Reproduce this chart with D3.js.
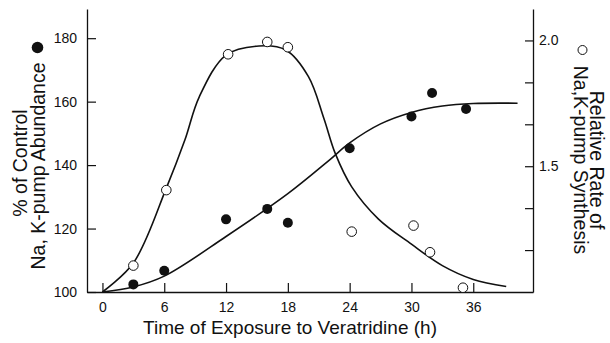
<html>
<head>
<script src="https://cdnjs.cloudflare.com/ajax/libs/d3/7.8.5/d3.min.js"></script>
<style>
  body { margin: 0; background: #fff; }
  text { font-family: "Liberation Sans", Arial, Helvetica, sans-serif; fill: #111; }
</style>
</head>
<body>
<div class="chart"></div>
<script>
const width = 610;
const height = 343;

// measured points: hours, % of control (filled) and relative rate (open)
const abundanceTime = [3, 6, 12, 16, 18, 24, 30, 32, 35.3];
const abundanceValue = [102.4, 106.7, 122.9, 126.2, 121.8, 145.3, 155.3, 162.7, 157.7];
const synthesisTime = [3, 6.2, 12.2, 16, 18, 24.2, 30.2, 31.8, 35];
const synthesisValue = [1.105, 1.405, 1.945, 1.994, 1.973, 1.24, 1.264, 1.158, 1.017];

// fitted curves as drawn in the figure
const abundanceCurveT = [0, 3, 6, 12, 18, 22, 24, 27, 30, 33, 36, 40.3];
const abundanceCurveV = [100, 101.6, 105, 117.5, 131, 141.5, 147, 153, 156.6, 158.6, 159.4, 159.5];
const synthesisCurveT = [0, 3, 6.2, 8, 9.4, 12, 15.2, 17.8, 20, 21.5, 22.6, 24.2, 26.8, 30, 33, 36, 39.2];
const synthesisCurveV = [1.0, 1.115, 1.413, 1.604, 1.776, 1.942, 1.978, 1.962, 1.856, 1.69, 1.551, 1.418, 1.29, 1.19, 1.105, 1.05, 1.022];

const xTicks = [0, 6, 12, 18, 24, 30, 36];
const leftTicks = [100, 120, 140, 160, 180];
const rightTicks = [1 + 1/6, 1 + 2/6, 1.5, 1 + 4/6, 1 + 5/6, 2.0];
const rightLabels = [1.5, 2.0];

const svg = d3.select(".chart").append("svg")
  .attr("width", width)
  .attr("height", height);

const x = d3.scaleLinear().domain([-1.5, 41.8]).range([87, 533]);
const yL = d3.scaleLinear().domain([100, 189.2]).range([292, 9]);
const yR = d3.scaleLinear().domain([1, 2.125]).range([292, 9]);

// Axes
const styleAxis = g => {
  g.selectAll("path, line").attr("stroke", "#111").attr("stroke-width", 1.2);
  g.selectAll("text").style("font-size", "14px").attr("fill", "#111");
};

svg.append("g")
  .attr("transform", "translate(0,292)")
  .call(d3.axisBottom(x).tickValues(xTicks).tickSizeInner(-9).tickSizeOuter(0).tickPadding(10))
  .call(styleAxis);

svg.append("g")
  .attr("transform", "translate(87,0)")
  .call(d3.axisLeft(yL).tickValues(leftTicks).tickSizeInner(-9).tickSizeOuter(0).tickPadding(10))
  .call(styleAxis);

svg.append("g")
  .attr("transform", "translate(533,0)")
  .call(d3.axisRight(yR).tickValues(rightTicks).tickSizeInner(-8).tickSizeOuter(0).tickPadding(6)
    .tickFormat(d => rightLabels.some(v => Math.abs(v - d) < 1e-6) ? d.toFixed(1) : ""))
  .call(styleAxis);

svg.selectAll(".domain").attr("stroke-width", 1.3);

// Curves
const lineL = d3.line().x(d => x(d[0])).y(d => yL(d[1])).curve(d3.curveCatmullRom.alpha(0.5));
const lineR = d3.line().x(d => x(d[0])).y(d => yR(d[1])).curve(d3.curveCatmullRom.alpha(0.5));

svg.append("path")
  .datum(d3.zip(abundanceCurveT, abundanceCurveV))
  .attr("d", lineL)
  .attr("fill", "none").attr("stroke", "#111").attr("stroke-width", 1.6);

svg.append("path")
  .datum(d3.zip(synthesisCurveT, synthesisCurveV))
  .attr("d", lineR)
  .attr("fill", "none").attr("stroke", "#111").attr("stroke-width", 1.6);

// Points
svg.append("g").selectAll("circle")
  .data(d3.zip(abundanceTime, abundanceValue)).enter()
  .append("circle")
  .attr("cx", d => x(d[0])).attr("cy", d => yL(d[1]))
  .attr("r", 5).attr("fill", "#111");

svg.append("g").selectAll("circle")
  .data(d3.zip(synthesisTime, synthesisValue)).enter()
  .append("circle")
  .attr("cx", d => x(d[0])).attr("cy", d => yR(d[1]))
  .attr("r", 4.8).attr("fill", "#fff").attr("stroke", "#111").attr("stroke-width", 1);

// Titles
svg.append("text")
  .attr("x", 290).attr("y", 334)
  .attr("text-anchor", "middle")
  .style("font-size", "19px")
  .text("Time of Exposure to Veratridine (h)");

svg.append("text")
  .attr("transform", "translate(20,163) rotate(-90)")
  .attr("text-anchor", "middle").attr("dominant-baseline", "central")
  .style("font-size", "19.5px")
  .text("% of Control");

svg.append("text")
  .attr("transform", "translate(38,166) rotate(-90)")
  .attr("text-anchor", "middle").attr("dominant-baseline", "central")
  .style("font-size", "19.5px")
  .text("Na, K-pump Abundance");

svg.append("circle").attr("cx", 37.5).attr("cy", 47.5).attr("r", 5.8).attr("fill", "#111");

svg.append("text")
  .attr("transform", "translate(597,160) rotate(90)")
  .attr("text-anchor", "middle").attr("dominant-baseline", "central")
  .style("font-size", "19.5px")
  .text("Relative Rate of");

svg.append("text")
  .attr("transform", "translate(581,160) rotate(90)")
  .attr("text-anchor", "middle").attr("dominant-baseline", "central")
  .style("font-size", "19.5px")
  .text("Na,K-pump Synthesis");

svg.append("circle").attr("cx", 582.5).attr("cy", 50).attr("r", 4.5)
  .attr("fill", "#fff").attr("stroke", "#111").attr("stroke-width", 1);
</script>
</body>
</html>
